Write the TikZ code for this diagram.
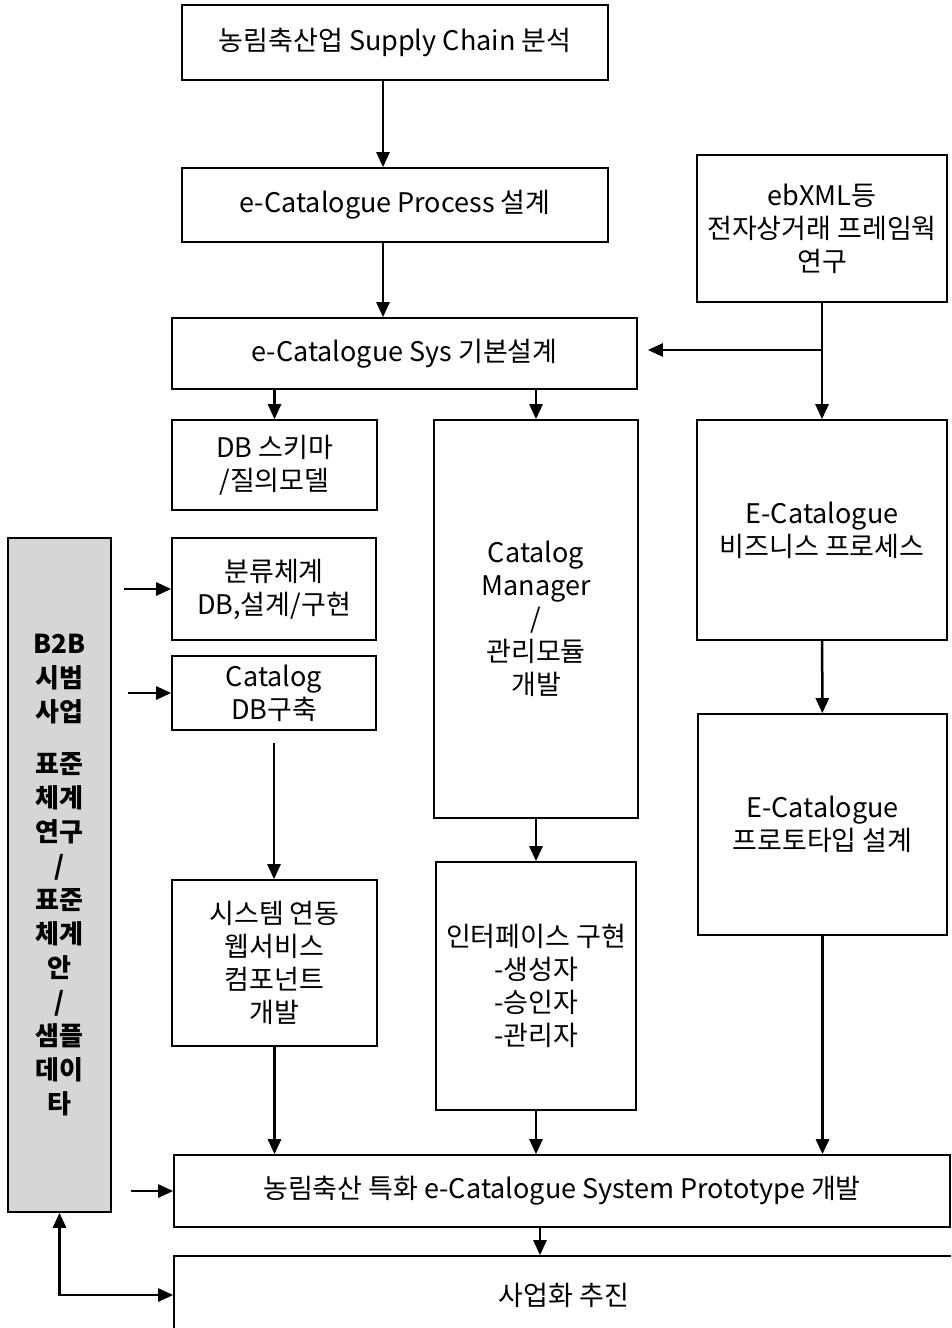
\documentclass[tikz,border=0pt]{standalone}
\usepackage{fontspec}
\setmainfont{Noto Sans CJK KR}
\usetikzlibrary{arrows.meta}

\begin{document}
\begin{tikzpicture}[x=1pt,y=-1pt,>={Triangle[length=15pt,width=13pt]},line width=2.5pt,
    box/.style={draw,line width=1.6pt,inner sep=0pt,align=center,font=\fontsize{27}{33}\selectfont},
    side box/.style={box,fill=gray!32,font=\fontsize{26}{34}\selectfont\bfseries}]
  \useasboundingbox (0,0) rectangle (951,1328);
  \clip (0,0) rectangle (951,1328);

  \node[box,minimum width=426pt,minimum height=75pt] (chain) at (395,42.5) {농림축산업 Supply Chain 분석};
  \node[box,minimum width=426pt,minimum height=74pt] (proc) at (395,205) {e-Catalogue Process 설계};
  \node[box,minimum width=250pt,minimum height=147pt] (ebxml) at (822,228.5) {ebXML등\\전자상거래 프레임웍\\연구};
  \node[box,minimum width=465pt,minimum height=71pt] (sys) at (404.5,353.5) {e-Catalogue Sys 기본설계};

  \node[box,minimum width=205pt,minimum height=90pt] (schema) at (274.5,465) {DB 스키마\\/질의모델};
  \node[box,minimum width=204pt,minimum height=102pt] (class) at (274,589) {분류체계\\DB,설계/구현};
  \node[box,minimum width=204pt,minimum height=74pt] (catdb) at (274,693) {Catalog\\DB구축};
  \node[box,minimum width=205pt,minimum height=166pt] (websvc) at (274.5,963) {시스템 연동\\웹서비스\\컴포넌트\\개발};

  \node[box,minimum width=204pt,minimum height=398pt] (mgr) at (536,619) {Catalog\\Manager\\/\\관리모듈\\개발};
  \node[box,minimum width=200pt,minimum height=248pt] (iface) at (536,986) {인터페이스 구현\\-생성자\\-승인자\\-관리자};

  \node[box,minimum width=250pt,minimum height=220pt] (bizproc) at (822,530) {E-Catalogue\\비즈니스 프로세스};
  \node[box,minimum width=249pt,minimum height=221pt] (proto) at (822.5,824.5) {E-Catalogue\\프로토타입 설계};

  \node[side box,minimum width=103pt,minimum height=674pt] (side) at (59.5,875)
    {B2B\\시범\\사업\\[18pt]표준\\체계\\연구\\/\\표준\\체계\\안\\/\\샘플\\데이\\타};

  \node[box,minimum width=776pt,minimum height=72pt] (dev) at (562,1191) {농림축산 특화 e-Catalogue System Prototype 개발};
  \node[box,minimum width=780pt,minimum height=78pt] (biz) at (564,1295) {사업화 추진};

  % main flow
  \draw[->] ([xshift=-12pt]chain.south) -- ([xshift=-12pt]proc.north);
  \draw[->] ([xshift=-12pt]proc.south) -- ([xshift=-12pt]proc.south |- sys.north);
  \coordinate (split) at (822,350);
  \draw[->] (ebxml) -- (bizproc);
  \draw[->,shorten >=10pt] (split) -- (sys.east |- split);
  \draw[->] (schema.north |- sys.south) -- (schema.north);
  \draw[->] (mgr.north |- sys.south) -- (mgr.north);
  \draw[->] (bizproc) -- (proto);
  \draw[->] (mgr) -- (iface);
  \draw[->,shorten <=12pt] (catdb.south) -- (catdb.south |- websvc.north);

  % into the prototype
  \draw[->] (websvc.south) -- (websvc.south |- dev.north);
  \draw[->] (iface.south) -- (iface.south |- dev.north);
  \draw[->] (proto.south) -- (proto.south |- dev.north);
  \draw[->] ([xshift=-22pt]dev.south) -- ([xshift=-22pt]dev.south |- biz.north);

  % from the side box
  \draw[->,shorten <=12pt] (side.east |- class.west) -- (class.west);
  \draw[->,shorten <=16pt] (side.east |- catdb.west) -- (catdb.west);
  \draw[->,shorten <=19pt] (side.east |- dev.west) -- (dev.west);
  \draw[<->] (side.south) |- (biz.west);
\end{tikzpicture}
\end{document}
